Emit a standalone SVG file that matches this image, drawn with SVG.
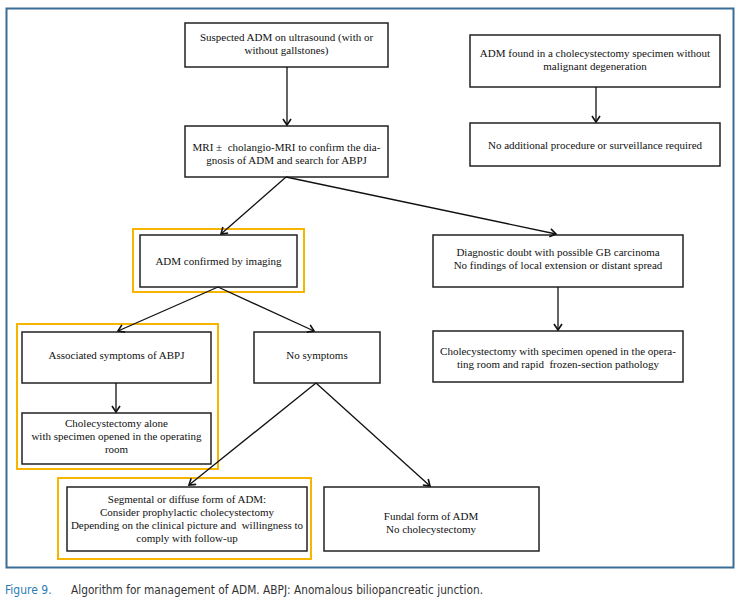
<svg xmlns="http://www.w3.org/2000/svg" width="740" height="600" viewBox="0 0 740 600">
<defs>
<marker id="ah" markerUnits="userSpaceOnUse" markerWidth="12" markerHeight="12" refX="7" refY="5" orient="auto" viewBox="0 0 12 12">
<path d="M1,1 L7,5 L1,9" fill="none" stroke="#111" stroke-width="1.6"/>
</marker>
<style>
.box{fill:#fff;stroke:#222;stroke-width:1.5}
.hl{fill:none;stroke:#f7b500;stroke-width:2}
.t{font-family:"Liberation Serif","Times New Roman",serif;font-size:11px;fill:#111;text-anchor:middle;white-space:pre}
.c{fill:none;stroke:#111;stroke-width:1.3;marker-end:url(#ah)}
.cap{font-family:"Liberation Sans Narrow","DejaVu Sans Condensed","Liberation Sans",sans-serif;font-size:12px}
</style>
</defs>
<rect width="740" height="600" fill="#fff"/>
<rect x="6.5" y="8.5" width="727" height="559" fill="none" stroke="#3a6d96" stroke-width="2"/>

<g id="n1"><rect class="box" x="185" y="23" width="203" height="44"/>
<text class="t" x="286.5" y="41">Suspected ADM on ultrasound (with or</text>
<text class="t" x="286.5" y="54">without gallstones)</text></g>

<g id="n2"><rect class="box" x="185" y="126" width="203" height="51"/>
<text class="t" x="286.5" y="151">MRI ±  cholangio-MRI to confirm the dia-</text>
<text class="t" x="286.5" y="164">gnosis of ADM and search for ABPJ</text>
<text class="t" x="286.5" y="172" style="font-size:6px;fill:#aaa">. . .</text></g>

<g id="n3"><rect class="box" x="470" y="35" width="250" height="52"/>
<text class="t" x="595" y="57">ADM found in a cholecystectomy specimen without</text>
<text class="t" x="595" y="70">malignant degeneration</text></g>

<g id="n4"><rect class="box" x="470" y="123" width="250" height="43"/>
<text class="t" x="595" y="149">No additional procedure or surveillance required</text></g>

<g id="n5"><rect class="hl" x="133" y="229" width="171" height="63"/>
<rect class="box" x="140" y="235" width="157" height="52"/>
<text class="t" x="218.5" y="265">ADM confirmed by imaging</text></g>

<g id="n6"><rect class="box" x="433" y="235" width="250" height="52"/>
<text class="t" x="558" y="256">Diagnostic doubt with possible GB carcinoma</text>
<text class="t" x="558" y="269">No findings of local extension or distant spread</text></g>

<g id="n7"><rect class="box" x="433" y="331" width="250" height="51"/>
<text class="t" x="558" y="355">Cholecystectomy with specimen opened in the opera-</text>
<text class="t" x="558" y="368">ting room and rapid  frozen-section pathology</text></g>

<g id="hlgroup"><rect class="hl" x="17" y="324" width="201" height="145"/></g>

<g id="n8"><rect class="box" x="22" y="332" width="189" height="51"/>
<text class="t" x="116.5" y="359">Associated symptoms of ABPJ</text></g>

<g id="n9"><rect class="box" x="22" y="413" width="189" height="51"/>
<text class="t" x="116.5" y="427">Cholecystectomy alone</text>
<text class="t" x="116.5" y="440">with specimen opened in the operating</text>
<text class="t" x="116.5" y="453">room</text></g>

<g id="n10"><rect class="box" x="254" y="332" width="126" height="51"/>
<text class="t" x="317" y="359">No symptoms</text></g>

<g id="n11"><rect class="hl" x="58" y="478" width="253" height="81"/>
<rect class="box" x="67" y="487" width="240" height="64"/>
<text class="t" x="187" y="503">Segmental or diffuse form of ADM:</text>
<text class="t" x="187" y="516">Consider prophylactic cholecystectomy</text>
<text class="t" x="187" y="529">Depending on the clinical picture and  willingness to</text>
<text class="t" x="187" y="542">comply with follow-up</text></g>

<g id="n12"><rect class="box" x="324" y="487" width="215" height="64"/>
<text class="t" x="431" y="520">Fundal form of ADM</text>
<text class="t" x="431" y="533">No cholecystectomy</text></g>

<g id="connectors">
<line class="c" x1="287" y1="67" x2="287" y2="125"/>
<line class="c" x1="596" y1="87" x2="596" y2="122"/>
<line class="c" x1="286" y1="177" x2="221" y2="234"/>
<line class="c" x1="286" y1="177" x2="556" y2="234"/>
<line class="c" x1="558" y1="287" x2="558" y2="330"/>
<line class="c" x1="218" y1="287" x2="118" y2="331"/>
<line class="c" x1="218" y1="287" x2="314" y2="331"/>
<line class="c" x1="116" y1="383" x2="116" y2="412"/>
<line class="c" x1="316" y1="383" x2="189" y2="485"/>
<line class="c" x1="316" y1="383" x2="430" y2="486"/>
</g>

<g id="caption">
<text class="cap" x="5" y="594" fill="#2b7bb3">Figure 9.</text>
<text class="cap" x="71" y="594" fill="#333" textLength="412" lengthAdjust="spacingAndGlyphs">Algorithm for management of ADM. ABPJ: Anomalous biliopancreatic junction.</text>
</g>
</svg>
